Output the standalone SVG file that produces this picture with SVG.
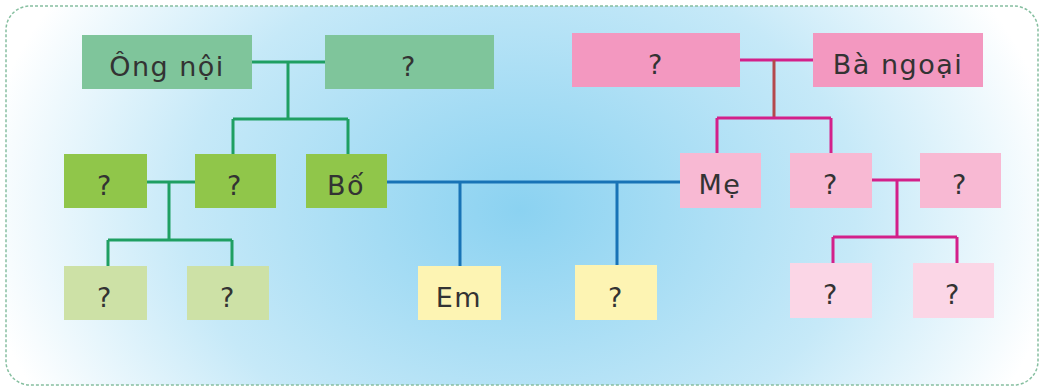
<svg xmlns="http://www.w3.org/2000/svg" width="1044" height="391" viewBox="0 0 1044 391">
<defs>
<radialGradient id="bg" cx="520" cy="210" r="560" gradientUnits="userSpaceOnUse" gradientTransform="translate(520 210) scale(1 0.75) translate(-520 -210)">
<stop offset="0" stop-color="#8bd2f1"/>
<stop offset="0.6" stop-color="#c6e9f8"/>
<stop offset="0.97" stop-color="#ffffff"/>
</radialGradient>
<style>
.t{font-family:"DejaVu Sans","Liberation Sans",sans-serif;font-size:27px;fill:#333;text-anchor:middle;letter-spacing:1.5px}
.g{fill:none;stroke:#1f9f62;stroke-width:3}
.b{fill:none;stroke:#1873b6;stroke-width:3}
.p{fill:none;stroke:#d3208a;stroke-width:3}
.pr{fill:none;stroke:#b4484c;stroke-width:3}
</style>
</defs>
<rect x="6" y="6" width="1032" height="379" rx="24" fill="url(#bg)"/>
<rect x="6" y="6" width="1032" height="379" rx="24" fill="none" stroke="#86bfa0" stroke-width="1.5" stroke-dasharray="3 2"/>
<g id="connectors">
<path class="g" d="M252 62H325M288 62V119M233 119H348M233 119V154M348 119V154"/>
<path class="g" d="M147 182H195M169 182V240M108 240H232M108 240V266M232 240V266"/>
<path class="b" d="M387 182H680M460 182V266M617 182V265"/>
<path class="p" d="M740 60H813"/>
<path class="pr" d="M774 60V118"/>
<path class="p" d="M717 118H831M717 118V154M831 118V154"/>
<path class="p" d="M872 180H920M897 180V237M833 237H957M833 237V263M957 237V263"/>
</g>
<g id="ong-noi"><rect x="82" y="35" width="170" height="54" fill="#7fc59b"/><text class="t" x="167" y="76">Ông nội</text></g>
<g id="ba-noi"><rect x="325" y="35" width="169" height="54" fill="#7fc59b"/><text class="t" x="409" y="76">?</text></g>
<g id="bac1"><rect x="64" y="154" width="83" height="54" fill="#90c64a"/><text class="t" x="105" y="195">?</text></g>
<g id="bac2"><rect x="195" y="154" width="81" height="54" fill="#90c64a"/><text class="t" x="235" y="195">?</text></g>
<g id="bo"><rect x="306" y="154" width="81" height="54" fill="#90c64a"/><text class="t" x="346" y="195">Bố</text></g>
<g id="anh1"><rect x="64" y="266" width="83" height="54" fill="#cde1a6"/><text class="t" x="105" y="307">?</text></g>
<g id="anh2"><rect x="187" y="266" width="82" height="54" fill="#cde1a6"/><text class="t" x="228" y="307">?</text></g>
<g id="em"><rect x="418" y="266" width="83" height="54" fill="#fdf4b3"/><text class="t" x="459" y="307">Em</text></g>
<g id="em2"><rect x="575" y="265" width="82" height="55" fill="#fdf4b3"/><text class="t" x="616" y="307">?</text></g>
<g id="ong-ngoai"><rect x="572" y="33" width="168" height="54" fill="#f398c0"/><text class="t" x="656" y="74">?</text></g>
<g id="ba-ngoai"><rect x="813" y="33" width="170" height="54" fill="#f398c0"/><text class="t" x="898" y="74">Bà ngoại</text></g>
<g id="me"><rect x="680" y="153" width="81" height="55" fill="#f8b9d3"/><text class="t" x="720" y="194">Mẹ</text></g>
<g id="di1"><rect x="790" y="153" width="82" height="55" fill="#f8b9d3"/><text class="t" x="831" y="194">?</text></g>
<g id="di2"><rect x="920" y="153" width="81" height="55" fill="#f8b9d3"/><text class="t" x="960" y="194">?</text></g>
<g id="chau1"><rect x="790" y="263" width="82" height="55" fill="#fbd6e6"/><text class="t" x="831" y="304">?</text></g>
<g id="chau2"><rect x="913" y="263" width="81" height="55" fill="#fbd6e6"/><text class="t" x="953" y="304">?</text></g>
</svg>
